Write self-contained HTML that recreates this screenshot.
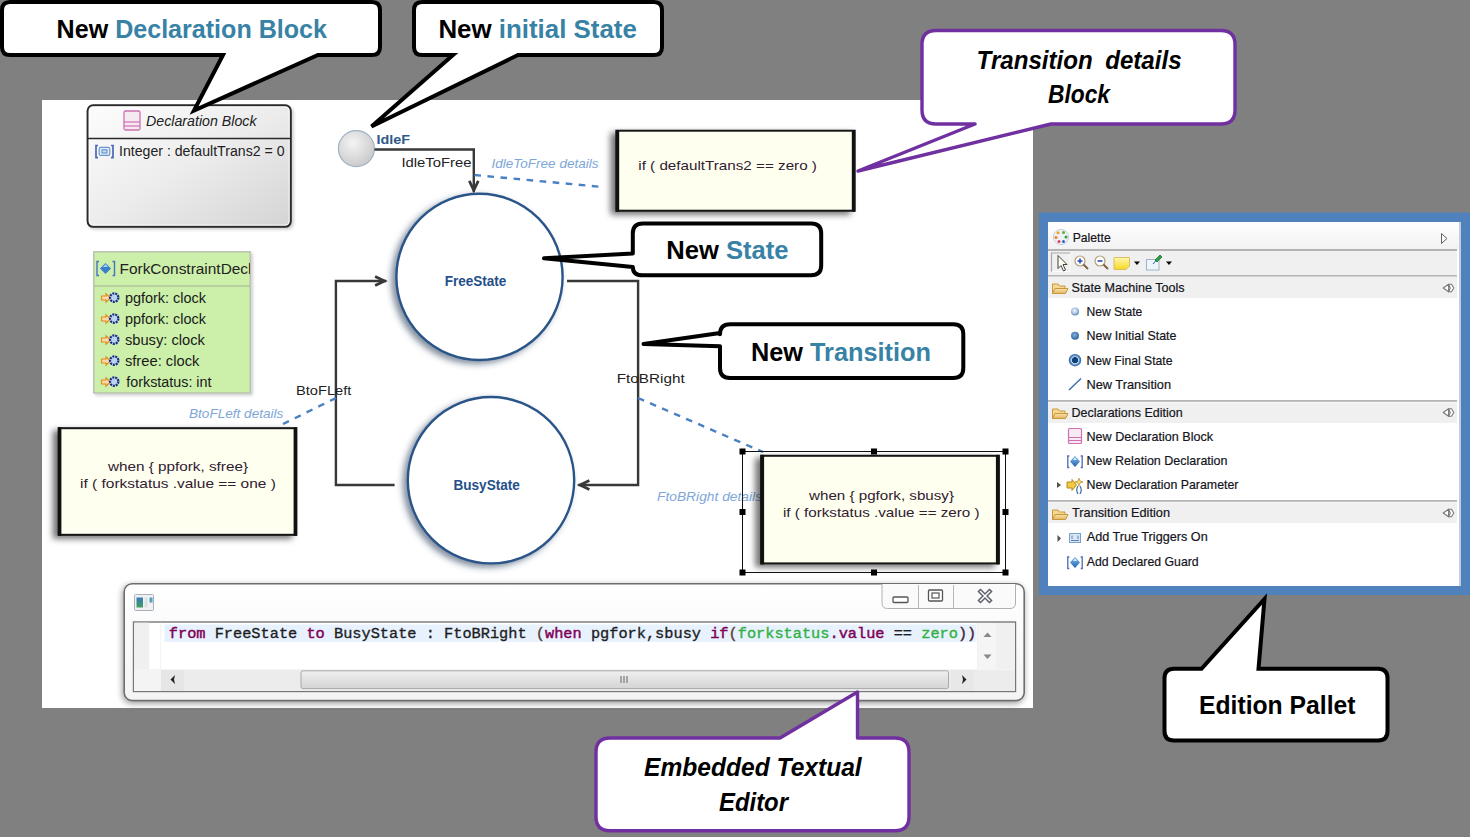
<!DOCTYPE html>
<html><head><meta charset="utf-8">
<style>
html,body{margin:0;padding:0;width:1470px;height:837px;overflow:hidden;background:#808080;}
svg{position:absolute;left:0;top:0;}
text{font-family:"Liberation Sans",sans-serif;}
.mono{font-family:"Liberation Mono",monospace;}
</style></head>
<body>
<svg width="1470" height="837" viewBox="0 0 1470 837">
<defs>
  <linearGradient id="declg" x1="0" y1="0" x2="1" y2="1">
    <stop offset="0" stop-color="#fdfdfd"/><stop offset="0.5" stop-color="#ececec"/><stop offset="1" stop-color="#d4d4d4"/>
  </linearGradient>
  <radialGradient id="idleg" cx="0.4" cy="0.35" r="0.7">
    <stop offset="0" stop-color="#f4f4f4"/><stop offset="1" stop-color="#c8c8c8"/>
  </radialGradient>
  <filter id="shadowL" x="-20%" y="-20%" width="140%" height="140%">
    <feGaussianBlur in="SourceAlpha" stdDeviation="3.2"/>
    <feOffset dx="-4" dy="3" result="b"/>
    <feFlood flood-color="#304560" flood-opacity="0.6"/>
    <feComposite in2="b" operator="in"/>
    <feMerge><feMergeNode/><feMergeNode in="SourceGraphic"/></feMerge>
  </filter>
  <filter id="shadowB" x="-20%" y="-20%" width="140%" height="140%">
    <feGaussianBlur in="SourceAlpha" stdDeviation="3.4"/>
    <feOffset dx="-5.5" dy="3" result="b"/>
    <feFlood flood-color="#000" flood-opacity="0.55"/>
    <feComposite in2="b" operator="in"/>
    <feMerge><feMergeNode/><feMergeNode in="SourceGraphic"/></feMerge>
  </filter>
  <marker id="arr" viewBox="-2 -2 16 14" refX="11.6" refY="5" markerWidth="16" markerHeight="14" markerUnits="userSpaceOnUse" orient="auto">
    <path d="M0.5,0.5 L10,5 L0.5,9.5" fill="none" stroke="#383838" stroke-width="2.7" stroke-linejoin="miter" stroke-miterlimit="3"/>
  </marker>
</defs>

<!-- canvas -->
<rect x="42" y="100" width="991" height="608" fill="#ffffff"/>

<!-- Declaration Block -->
<filter id="shadowS" x="-10%" y="-10%" width="120%" height="120%">
    <feGaussianBlur in="SourceAlpha" stdDeviation="1.5"/>
    <feOffset dx="1.5" dy="2" result="b"/>
    <feFlood flood-color="#000" flood-opacity="0.18"/>
    <feComposite in2="b" operator="in"/>
    <feMerge><feMergeNode/><feMergeNode in="SourceGraphic"/></feMerge>
  </filter>
<rect x="87.6" y="105.3" width="203.2" height="121.5" rx="5.5" fill="url(#declg)" stroke="#2a2a2a" stroke-width="2" filter="url(#shadowS)"/>
<rect x="89.3" y="107" width="199.8" height="118.1" rx="4" fill="none" stroke="#ffffff" stroke-opacity="0.8" stroke-width="1"/>
<line x1="88" y1="138.5" x2="290" y2="138.5" stroke="#2a2a2a" stroke-width="1.6"/>
<rect x="124" y="111" width="16" height="19" rx="1.5" fill="#f6eaf2" stroke="#d070b0" stroke-width="1.3"/>
<line x1="124" y1="122" x2="140" y2="122" stroke="#d070b0" stroke-width="1.2"/>
<line x1="124" y1="126" x2="140" y2="126" stroke="#d070b0" stroke-width="1.2"/>
<text x="146" y="126" font-size="14" font-style="italic" fill="#222" textLength="110.5" lengthAdjust="spacingAndGlyphs">Declaration Block</text>
<path d="M98,145.5 H96 V157.6 H98" fill="none" stroke="#4a68b8" stroke-width="1.7"/>
<path d="M111,145.5 H113 V157.6 H111" fill="none" stroke="#4a68b8" stroke-width="1.7"/>
<rect x="99.2" y="147.4" width="10.6" height="8" rx="1.5" fill="#e4eefa" stroke="#6a98cc" stroke-width="1.2"/>
<rect x="102" y="149.8" width="5" height="3.2" fill="#c8dcf2" stroke="#5a88c0" stroke-width="1"/>
<text x="119" y="156" font-size="14" fill="#222" textLength="165.5" lengthAdjust="spacingAndGlyphs">Integer : defaultTrans2 = 0</text>

<!-- IdleF -->
<circle cx="356.4" cy="148.6" r="18" fill="url(#idleg)" stroke="#9fb2c6" stroke-width="1.2"/>
<text x="376.5" y="144" font-size="13" font-weight="bold" fill="#2f5a8a" textLength="33.5" lengthAdjust="spacingAndGlyphs">IdleF</text>
<polyline points="374.5,149.5 473.8,149.5 473.8,192" fill="none" stroke="#383838" stroke-width="2.4" marker-end="url(#arr)"/>
<text x="401.4" y="166.6" font-size="13.5" fill="#222" textLength="70" lengthAdjust="spacingAndGlyphs">IdleToFree</text>
<text x="491.5" y="168" font-size="13.5" font-style="italic" fill="#7ea6d8" textLength="107" lengthAdjust="spacingAndGlyphs">IdleToFree details</text>
<line x1="474.4" y1="175" x2="599.5" y2="186.7" stroke="#4a80c4" stroke-width="2.4" stroke-dasharray="6.6,6.5"/>

<!-- FreeState -->
<circle cx="479.5" cy="276.9" r="83.1" fill="#fff" stroke="#2a5488" stroke-width="2.4" filter="url(#shadowL)"/>
<text x="444.7" y="286.2" font-size="14" font-weight="bold" fill="#24508a" textLength="61.7" lengthAdjust="spacingAndGlyphs">FreeState</text>

<!-- BusyState -->
<circle cx="491" cy="480.2" r="83.2" fill="#fff" stroke="#2a5488" stroke-width="2.4" filter="url(#shadowL)"/>
<text x="453.5" y="490" font-size="14" font-weight="bold" fill="#24508a" textLength="66.3" lengthAdjust="spacingAndGlyphs">BusyState</text>

<!-- transitions -->
<polyline points="567,281 638.1,281 638.1,485 578.3,485" fill="none" stroke="#383838" stroke-width="2.4" marker-end="url(#arr)"/>
<polyline points="394.6,485 335.9,485 335.9,281 386.2,281" fill="none" stroke="#383838" stroke-width="2.4" marker-end="url(#arr)"/>
<text x="296" y="395" font-size="13.5" fill="#222" textLength="55.4" lengthAdjust="spacingAndGlyphs">BtoFLeft</text>
<text x="616.7" y="383" font-size="13.5" fill="#222" textLength="68" lengthAdjust="spacingAndGlyphs">FtoBRight</text>
<line x1="336" y1="398" x2="283" y2="424" stroke="#4a80c4" stroke-width="2.4" stroke-dasharray="6.6,6.5"/>
<line x1="638" y1="398" x2="763" y2="452" stroke="#4a80c4" stroke-width="2.4" stroke-dasharray="6.6,6.5"/>
<text x="189" y="417.7" font-size="13.5" font-style="italic" fill="#7ea6d8" textLength="94.4" lengthAdjust="spacingAndGlyphs">BtoFLeft details</text>
<text x="657" y="501" font-size="13.5" font-style="italic" fill="#7ea6d8" textLength="105" lengthAdjust="spacingAndGlyphs">FtoBRight details</text>

<!-- top right details block -->
<rect x="616.5" y="130.7" width="238" height="80" fill="#fffff0" stroke="#151515" stroke-width="2" filter="url(#shadowB)"/>
<line x1="617.4" y1="130" x2="617.4" y2="211.7" stroke="#111" stroke-width="3.6"/>
<line x1="853.6" y1="130" x2="853.6" y2="211.7" stroke="#111" stroke-width="3.6"/>
<text x="638.3" y="170.2" font-size="13" fill="#302030" textLength="178.6" lengthAdjust="spacingAndGlyphs">if ( defaultTrans2 == zero )</text>

<!-- ForkConstraintDecl -->
<rect x="93.8" y="251.8" width="156.4" height="141.2" fill="#ccf0aa" stroke="#b4bcac" stroke-width="1.3" filter="url(#shadowS)"/>
<line x1="94" y1="286" x2="250" y2="286" stroke="#a0b098" stroke-width="1.2"/>
<svg x="93" y="252" width="157" height="34" overflow="hidden"><text x="26.5" y="21.6" font-size="14" fill="#222" textLength="132" lengthAdjust="spacingAndGlyphs">ForkConstraintDecl</text></svg>

<!-- BtoFLeft details block -->
<rect x="58.8" y="428.2" width="237.4" height="106.6" fill="#fffff0" stroke="#151515" stroke-width="2" filter="url(#shadowB)"/>
<line x1="59.6" y1="427.2" x2="59.6" y2="535.8" stroke="#111" stroke-width="3.6"/>
<line x1="295.4" y1="427.2" x2="295.4" y2="535.8" stroke="#111" stroke-width="3.6"/>
<text x="108" y="471.2" font-size="13" fill="#302030" textLength="140" lengthAdjust="spacingAndGlyphs">when { ppfork, sfree}</text>
<text x="80.1" y="487.6" font-size="13" fill="#302030" textLength="195.7" lengthAdjust="spacingAndGlyphs">if ( forkstatus .value == one )</text>

<!-- FtoBRight details block -->
<rect x="761.2" y="455.8" width="237.6" height="107.6" fill="#fffff0" stroke="#151515" stroke-width="2" filter="url(#shadowB)"/>
<line x1="762.3" y1="454.8" x2="762.3" y2="564.4" stroke="#111" stroke-width="3.6"/>
<line x1="997.7" y1="454.8" x2="997.7" y2="564.4" stroke="#111" stroke-width="3.6"/>
<text x="809" y="500.2" font-size="13" fill="#302030" textLength="145" lengthAdjust="spacingAndGlyphs">when { pgfork, sbusy}</text>
<text x="782.9" y="517" font-size="13" fill="#302030" textLength="196.7" lengthAdjust="spacingAndGlyphs">if ( forkstatus .value == zero )</text>
<rect x="742.5" y="451.5" width="263" height="121" fill="none" stroke="#111" stroke-width="1"/>

<!-- callouts -->
<path d="M10,2 H372 Q380,2 380,10 V47 Q380,55 372,55 H318 L194,110.5 L223,55 H10 Q2,55 2,47 V10 Q2,2 10,2 Z" fill="#fff" stroke="#000" stroke-width="4" stroke-linejoin="miter"/>
<text x="56.6" y="38" font-size="25" font-weight="bold" textLength="270.4" lengthAdjust="spacingAndGlyphs"><tspan fill="#000">New </tspan><tspan fill="#3782a5">Declaration Block</tspan></text>

<path d="M422,2 H654 Q662,2 662,10 V47 Q662,55 654,55 H518 L371.5,126.5 L453,55 H422 Q414,55 414,47 V10 Q414,2 422,2 Z" fill="#fff" stroke="#000" stroke-width="4"/>
<text x="438.4" y="38.1" font-size="25" font-weight="bold" textLength="198.5" lengthAdjust="spacingAndGlyphs"><tspan fill="#000">New </tspan><tspan fill="#3782a5">initial State</tspan></text>



<!-- ===== EDITOR ===== -->
<defs>
  <linearGradient id="edfr" x1="0" y1="0" x2="0" y2="1">
    <stop offset="0" stop-color="#ffffff"/><stop offset="1" stop-color="#f4f4f4"/>
  </linearGradient>
  <linearGradient id="thumb" x1="0" y1="0" x2="0" y2="1">
    <stop offset="0" stop-color="#f0f0f0"/><stop offset="1" stop-color="#d4d4d4"/>
  </linearGradient>
  <filter id="edsh" x="-5%" y="-20%" width="110%" height="140%">
    <feGaussianBlur in="SourceAlpha" stdDeviation="3"/>
    <feOffset dx="-1" dy="2" result="b"/>
    <feFlood flood-color="#000" flood-opacity="0.4"/>
    <feComposite in2="b" operator="in"/>
    <feMerge><feMergeNode/><feMergeNode in="SourceGraphic"/></feMerge>
  </filter>
</defs>
<rect x="124.2" y="583.7" width="900" height="116.9" rx="8" fill="url(#edfr)" stroke="#6e6e6e" stroke-width="1.6" filter="url(#edsh)"/>
<rect x="134.5" y="594.5" width="19" height="16" rx="1" fill="#eef0f2" stroke="#a8b0b8" stroke-width="1"/>
<defs><linearGradient id="icg" x1="0" y1="0" x2="0" y2="1"><stop offset="0" stop-color="#3a78b8"/><stop offset="1" stop-color="#40a060"/></linearGradient></defs>
<rect x="136.5" y="597.5" width="6.5" height="10" fill="url(#icg)"/>
<rect x="144.5" y="597.5" width="3" height="10" fill="#e0e0e0"/>
<rect x="149.5" y="597.5" width="3" height="5" fill="#50a0c0"/>
<path d="M882,584 V603 Q882,608.5 887.5,608.5 H1010 Q1015.5,608.5 1015.5,603 V584" fill="#fafafa" stroke="#b0b0b0" stroke-width="1"/>
<line x1="918.5" y1="585" x2="918.5" y2="608" stroke="#b8b8b8" stroke-width="1"/>
<line x1="953.5" y1="585" x2="953.5" y2="608" stroke="#b8b8b8" stroke-width="1"/>
<rect x="893" y="597" width="15" height="5.5" rx="1" fill="#fff" stroke="#555" stroke-width="1.3"/>
<rect x="928.5" y="590" width="14" height="11" rx="1" fill="#fff" stroke="#555" stroke-width="1.3"/>
<rect x="932" y="593" width="7" height="5" fill="none" stroke="#555" stroke-width="1.2"/>
<path d="M980.5,591.5 L989.5,600.5 M989.5,591.5 L980.5,600.5" stroke="#5a5f6a" stroke-width="4.4" stroke-linecap="square"/>
<path d="M980.5,591.5 L989.5,600.5 M989.5,591.5 L980.5,600.5" stroke="#fff" stroke-width="1.5" stroke-linecap="square"/>

<rect x="133.5" y="622" width="882" height="69.5" fill="#ffffff" stroke="#777" stroke-width="1.4"/>
<rect x="134.2" y="622.7" width="15" height="46.5" fill="#f0f0f0"/>
<rect x="160" y="622.7" width="1" height="46.5" fill="#f4f4f4"/>
<rect x="164.5" y="624.5" width="812" height="17.5" fill="#e8f2fe"/>
<text class="mono" x="168.8" y="638" font-size="15.27" fill="#1e1e1e" stroke="#1e1e1e" stroke-width="0.35" textLength="807.5" lengthAdjust="spacingAndGlyphs" xml:space="preserve"><tspan fill="#7f0055" stroke="#7f0055" stroke-width="0.45">from</tspan> FreeState <tspan fill="#7f0055" stroke="#7f0055" stroke-width="0.45">to</tspan> BusyState : FtoBRight <tspan fill="#5a3a2a" stroke="#5a3a2a">(</tspan><tspan fill="#7f0055" stroke="#7f0055" stroke-width="0.45">when</tspan> pgfork,sbusy <tspan fill="#7f0055" stroke="#7f0055" stroke-width="0.45">if</tspan><tspan fill="#5a3a2a" stroke="#5a3a2a">(</tspan><tspan fill="#30b040" stroke="#30b040">forkstatus</tspan><tspan fill="#7f0055" stroke="#7f0055" stroke-width="0.45">.value</tspan> == <tspan fill="#30b040" stroke="#30b040">zero</tspan><tspan fill="#4a1a3a" stroke="#4a1a3a">))</tspan></text>
<rect x="977" y="623" width="38" height="46" fill="#f0f0f0"/>
<rect x="978" y="623" width="18" height="46" fill="#f5f5f5"/>
<path d="M983.5,637 L987.5,632.5 L991.5,637 Z" fill="#888"/>
<path d="M983.5,654.5 L987.5,659 L991.5,654.5 Z" fill="#888"/>
<rect x="134" y="669.5" width="881" height="21.5" fill="#ececec"/>
<rect x="134" y="669.5" width="27" height="21.5" fill="#f4f4f4"/>
<rect x="161" y="670" width="23" height="21" fill="#e6e6e6"/>
<path d="M175,675 L170.5,679.5 L175,684 L174,679.5 Z" fill="#222"/>
<rect x="301" y="670.8" width="647.5" height="17.8" rx="2" fill="url(#thumb)" stroke="#a8a8a8" stroke-width="1"/>
<path d="M621,676 V683 M624,676 V683 M627,676 V683" stroke="#666" stroke-width="1"/>
<rect x="951" y="670" width="23" height="21" fill="#e8e8e8"/>
<path d="M962,675 L966.5,679.5 L962,684 L963,679.5 Z" fill="#222"/>

<!-- ForkConstraintDecl icon and items -->
<g id="fkicon">
<path d="M99,261.5 H97 V275.5 H99" fill="none" stroke="#4a70c0" stroke-width="1.4"/>
<path d="M112.5,261.5 H114.5 V275.5 H112.5" fill="none" stroke="#4a70c0" stroke-width="1.4"/>
<path d="M105.5,263 L111,268.5 L105.5,274 L100,268.5 Z" fill="#3a80c8"/>
<path d="M105.5,264 L108,267 H103 Z" fill="#a8d0f0"/>
</g>
<g id="parm">
<path d="M101.5,296 H106 V293.8 L110.5,298 L106,302.2 V300 H101.5 Z" fill="#fbd9a0" stroke="#e08a20" stroke-width="1.1"/>
<circle cx="114.2" cy="297.6" r="4.2" fill="#b8d4f0" stroke="#1a2a8a" stroke-width="2.2" stroke-dasharray="2,0.9"/>
</g>
<use href="#parm" y="21"/>
<use href="#parm" y="42"/>
<use href="#parm" y="63"/>
<use href="#parm" y="84"/>
<text x="124.9" y="302.9" font-size="14" fill="#1a1a1a" textLength="81.1" lengthAdjust="spacingAndGlyphs">pgfork: clock</text>
<text x="124.9" y="324" font-size="14" fill="#1a1a1a" textLength="81.1" lengthAdjust="spacingAndGlyphs">ppfork: clock</text>
<text x="124.9" y="344.8" font-size="14" fill="#1a1a1a" textLength="80" lengthAdjust="spacingAndGlyphs">sbusy: clock</text>
<text x="124.9" y="365.9" font-size="14" fill="#1a1a1a" textLength="74.5" lengthAdjust="spacingAndGlyphs">sfree: clock</text>
<text x="126.3" y="386.7" font-size="14" fill="#1a1a1a" textLength="85.2" lengthAdjust="spacingAndGlyphs">forkstatus: int</text>

<!-- selection handles -->
<g fill="#000">
<rect x="739.5" y="448.5" width="6" height="6"/><rect x="871" y="448.5" width="6" height="6"/><rect x="1002.5" y="448.5" width="6" height="6"/>
<rect x="739.5" y="509" width="6" height="6"/><rect x="1002.5" y="509" width="6" height="6"/>
<rect x="739.5" y="569.5" width="6" height="6"/><rect x="871" y="569.5" width="6" height="6"/><rect x="1002.5" y="569.5" width="6" height="6"/>
</g>

<!-- purple callouts -->
<path d="M936,30.5 H1221 Q1235,30.5 1235,44.5 V110 Q1235,124 1221,124 H1051 L858,171 L975,124 H936 Q922,124 922,110 V44.5 Q922,30.5 936,30.5 Z" fill="#fff" stroke="#7030a0" stroke-width="3.4" stroke-linejoin="round"/>
<text x="976.6" y="68.6" font-size="25" font-weight="bold" font-style="italic" fill="#000" textLength="205" lengthAdjust="spacingAndGlyphs" word-spacing="6">Transition details</text>
<text x="1048" y="103.4" font-size="25" font-weight="bold" font-style="italic" fill="#000" textLength="62" lengthAdjust="spacingAndGlyphs">Block</text>

<path d="M610,738 H780 L857.5,692 V738 H895 Q909,738 909,752 V816.8 Q909,830.8 895,830.8 H610 Q596,830.8 596,816.8 V752 Q596,738 610,738 Z" fill="#fff" stroke="#7030a0" stroke-width="3.4" stroke-linejoin="round"/>
<text x="644" y="775.5" font-size="25" font-weight="bold" font-style="italic" fill="#000" textLength="217.7" lengthAdjust="spacingAndGlyphs">Embedded Textual</text>
<text x="719" y="810.5" font-size="25" font-weight="bold" font-style="italic" fill="#000" textLength="69" lengthAdjust="spacingAndGlyphs">Editor</text>

<!-- New State callout -->
<path d="M642.8,223.5 H811.2 Q821.2,223.5 821.2,233.5 V265.3 Q821.2,275.3 811.2,275.3 H642.8 Q632.8,275.3 632.8,266.9 L544,258.3 L632.8,253.5 V233.5 Q632.8,223.5 642.8,223.5 Z" fill="#fff" stroke="#000" stroke-width="4" stroke-linejoin="round"/>
<text x="666.2" y="259" font-size="25" font-weight="bold" textLength="122.4" lengthAdjust="spacingAndGlyphs"><tspan fill="#000">New </tspan><tspan fill="#3782a5">State</tspan></text>

<!-- New Transition callout -->
<path d="M730,324.3 H953.3 Q963.3,324.3 963.3,334.3 V367.9 Q963.3,377.9 953.3,377.9 H730 Q720,377.9 720,367.9 V346.3 L643.5,344 L720,333 V334.3 Q720,324.3 730,324.3 Z" fill="#fff" stroke="#000" stroke-width="4" stroke-linejoin="round"/>
<text x="751" y="360.6" font-size="25" font-weight="bold" textLength="180" lengthAdjust="spacingAndGlyphs"><tspan fill="#000">New </tspan><tspan fill="#3782a5">Transition</tspan></text>

<!-- ===== PALETTE ===== -->
<defs>
  <linearGradient id="palhdr" x1="0" y1="0" x2="0" y2="1">
    <stop offset="0" stop-color="#ffffff"/><stop offset="1" stop-color="#f2f2f2"/>
  </linearGradient>
  <linearGradient id="folder" x1="0" y1="0" x2="0" y2="1">
    <stop offset="0" stop-color="#fbe3a8"/><stop offset="1" stop-color="#e2b460"/>
  </linearGradient>
</defs>
<rect x="1039" y="212.5" width="431" height="382.5" fill="#4f81bd"/>
<rect x="1048" y="222" width="413" height="364" fill="#ffffff"/>
<rect x="1459" y="222" width="2" height="364" fill="#c4ccdc"/>
<rect x="1048" y="222" width="411" height="27" fill="url(#palhdr)"/>
<rect x="1048" y="249" width="409" height="2" fill="#b4b4b4"/>
<rect x="1048" y="251" width="409" height="24" fill="#f0f0f0"/>
<rect x="1048" y="275" width="409" height="1.6" fill="#b4b4b4"/>
<rect x="1048" y="277" width="409" height="21" fill="#f0f0f0"/>
<rect x="1048" y="400" width="409" height="1.8" fill="#b4b4b4"/>
<rect x="1048" y="402.5" width="409" height="20.5" fill="#f0f0f0"/>
<rect x="1048" y="500" width="409" height="1.8" fill="#b4b4b4"/>
<rect x="1048" y="502.5" width="409" height="20.5" fill="#f0f0f0"/>

<!-- palette icon -->
<circle cx="1061" cy="237" r="7.6" fill="#eef2f6" stroke="#c8d0dc" stroke-width="1"/>
<circle cx="1058" cy="232.8" r="1.5" fill="#f0a020"/>
<circle cx="1063.5" cy="232.5" r="1.5" fill="#60b030"/>
<circle cx="1056" cy="237.5" r="1.5" fill="#f08020"/>
<circle cx="1066" cy="237" r="1.5" fill="#30a030"/>
<circle cx="1059" cy="241.5" r="1.5" fill="#e04060"/>
<circle cx="1063.5" cy="241.5" r="1.5" fill="#3060d0"/>
<text x="1072.7" y="242.2" font-size="12.9" fill="#141420" stroke="#141420" stroke-width="0.2" textLength="38" lengthAdjust="spacingAndGlyphs">Palette</text>
<path d="M1441.5,233.5 L1447,238.5 L1441.5,243.5 Z" fill="none" stroke="#606060" stroke-width="1"/>

<!-- toolbar -->
<path d="M1051.5,271.5 V253 H1070" fill="none" stroke="#a8a8a8" stroke-width="1.2"/><path d="M1052.5,271.5 H1070 V254" fill="none" stroke="#fafafa" stroke-width="1"/>
<path d="M1058,255.5 L1058,268.5 L1061,265.5 L1063.5,271 L1065.5,270 L1063,264.5 L1067,264.5 Z" fill="#fffff0" stroke="#404040" stroke-width="1"/>
<circle cx="1080" cy="261" r="5" fill="#fff" stroke="#b0a078" stroke-width="1.2"/>
<line x1="1083.5" y1="264.5" x2="1088" y2="269" stroke="#806040" stroke-width="2"/>
<path d="M1077.5,261 H1082.5 M1080,258.5 V263.5" stroke="#2040c0" stroke-width="1.5"/>
<circle cx="1100" cy="261" r="5" fill="#fff" stroke="#b0a078" stroke-width="1.2"/>
<line x1="1103.5" y1="264.5" x2="1108" y2="269" stroke="#806040" stroke-width="2"/>
<path d="M1097.5,261 H1102.5" stroke="#2040c0" stroke-width="1.5"/>
<defs><linearGradient id="note" x1="0" y1="0" x2="0" y2="1"><stop offset="0" stop-color="#fff8b0"/><stop offset="1" stop-color="#f4d820"/></linearGradient></defs><path d="M1114,257.5 H1129.5 V266 L1126,269.5 H1114 Z" fill="url(#note)" stroke="#d8c060" stroke-width="1"/>
<path d="M1134,261.5 H1140 L1137,265 Z" fill="#000"/>
<rect x="1146.5" y="259.5" width="12.5" height="10.5" fill="#eef6fc" stroke="#a0b4cc" stroke-width="1"/>
<path d="M1153,264 L1156,260.5" stroke="#3060a0" stroke-width="1"/>
<path d="M1155,260 L1160,255 L1162,257 L1157,262 Z" fill="#30a040" stroke="#207030" stroke-width="0.8"/>
<path d="M1166,261.5 H1172 L1169,265 Z" fill="#000"/>

<!-- section headers -->
<g id="fold1">
<path d="M1052.5,284 H1058 L1059.5,286 H1065 V293.5 H1052.5 Z" fill="#f6d890" stroke="#c89840" stroke-width="1"/>
<path d="M1052.5,293.5 L1055,288.5 H1068 L1065.5,293.5 Z" fill="url(#folder)" stroke="#c89840" stroke-width="1"/>
</g>
<use href="#fold1" y="125"/>
<use href="#fold1" y="226"/>
<text x="1071.6" y="291.6" font-size="12.9" fill="#141420" stroke="#141420" stroke-width="0.2" textLength="113" lengthAdjust="spacingAndGlyphs">State Machine Tools</text>
<text x="1071.6" y="416.5" font-size="12.9" fill="#141420" stroke="#141420" stroke-width="0.2" textLength="111" lengthAdjust="spacingAndGlyphs">Declarations Edition</text>
<text x="1072" y="517" font-size="12.9" fill="#141420" stroke="#141420" stroke-width="0.2" textLength="98" lengthAdjust="spacingAndGlyphs">Transition Edition</text>
<g id="coll1" fill="#fff" stroke="#787878" stroke-width="1.1" stroke-linejoin="round">
<path d="M1448.6,284.2 L1443.2,288 L1448.6,291.8 Z"/><path d="M1448.6,284.2 H1451.5 L1453.8,288 L1451.5,291.8 H1448.6 L1450.3,288 Z"/>
</g>
<use href="#coll1" y="124.5"/>
<use href="#coll1" y="225"/>

<!-- items -->
<defs>
<radialGradient id="st1" cx="0.45" cy="0.4" r="0.6"><stop offset="0" stop-color="#f4f8fc"/><stop offset="0.6" stop-color="#a8c4e0"/><stop offset="1" stop-color="#5a88bc"/></radialGradient>
<radialGradient id="st2" cx="0.45" cy="0.4" r="0.6"><stop offset="0" stop-color="#8ab0d8"/><stop offset="1" stop-color="#2a62a0"/></radialGradient>
<radialGradient id="st3" cx="0.5" cy="0.5" r="0.5"><stop offset="0.45" stop-color="#10407a"/><stop offset="0.55" stop-color="#c8dcf0"/><stop offset="0.75" stop-color="#6090c8"/><stop offset="1" stop-color="#2a62a0"/></radialGradient>
</defs>
<circle cx="1075" cy="311.5" r="4" fill="url(#st1)"/>
<circle cx="1075" cy="335.8" r="4" fill="url(#st2)"/>
<circle cx="1075" cy="360.2" r="6.2" fill="url(#st3)"/>
<line x1="1069" y1="390" x2="1081" y2="378.5" stroke="#3c6fa8" stroke-width="1.5"/>
<text x="1086.5" y="316.1" font-size="12.9" fill="#141420" stroke="#141420" stroke-width="0.2" textLength="55.8" lengthAdjust="spacingAndGlyphs">New State</text>
<text x="1086.5" y="340.4" font-size="12.9" fill="#141420" stroke="#141420" stroke-width="0.2" textLength="90" lengthAdjust="spacingAndGlyphs">New Initial State</text>
<text x="1086.5" y="364.7" font-size="12.9" fill="#141420" stroke="#141420" stroke-width="0.2" textLength="86" lengthAdjust="spacingAndGlyphs">New Final State</text>
<text x="1086.5" y="388.9" font-size="12.9" fill="#141420" stroke="#141420" stroke-width="0.2" textLength="84.5" lengthAdjust="spacingAndGlyphs">New Transition</text>

<rect x="1068.5" y="428.5" width="13" height="15" rx="1" fill="#f6eaf2" stroke="#d070b0" stroke-width="1.2"/>
<line x1="1068.5" y1="437.5" x2="1081.5" y2="437.5" stroke="#d070b0" stroke-width="1"/>
<line x1="1068.5" y1="440.5" x2="1081.5" y2="440.5" stroke="#d070b0" stroke-width="1"/>
<text x="1086.5" y="440.6" font-size="12.9" fill="#141420" stroke="#141420" stroke-width="0.2" textLength="126.5" lengthAdjust="spacingAndGlyphs">New Declaration Block</text>

<g id="reldecl">
<path d="M1069.3,456 H1067.8 V467.5 H1069.3" fill="none" stroke="#4a68b8" stroke-width="1.3"/>
<path d="M1080.7,456 H1082.2 V467.5 H1080.7" fill="none" stroke="#4a68b8" stroke-width="1.3"/>
<defs><linearGradient id="dia" x1="0" y1="0" x2="0" y2="1"><stop offset="0" stop-color="#8ec0ec"/><stop offset="1" stop-color="#1e62b0"/></linearGradient></defs>
<path d="M1075,455.8 L1080,461.5 L1075,467 L1070,461.5 Z" fill="url(#dia)"/>
<path d="M1075,457.5 L1076.8,460 H1073.2 Z" fill="#ffffff" opacity="0.85"/>
</g>
<text x="1086.5" y="465.1" font-size="12.9" fill="#141420" stroke="#141420" stroke-width="0.2" textLength="141" lengthAdjust="spacingAndGlyphs">New Relation Declaration</text>

<path d="M1057,482 L1061,485 L1057,488 Z" fill="#505050"/>
<path d="M1067,482 H1072 V479.5 L1076.5,485 L1072,490.5 V488 H1067 Z" fill="#f4c840" stroke="#b88a20" stroke-width="1"/>
<path d="M1078,486 Q1075.5,490 1078,494 M1080,486 Q1082.5,490 1080,494" fill="none" stroke="#3a6aa8" stroke-width="1.2"/>
<path d="M1079,478 L1080,481 L1083,482 L1080,483 L1079,486 L1078,483 L1075,482 L1078,481 Z" fill="#f8e070" stroke="#b89030" stroke-width="0.7"/>
<text x="1086.5" y="489.4" font-size="12.9" fill="#141420" stroke="#141420" stroke-width="0.2" textLength="152" lengthAdjust="spacingAndGlyphs">New Declaration Parameter</text>

<path d="M1057.5,535 L1061,538.5 L1057.5,542 Z" fill="#505050"/>
<rect x="1069.5" y="533.5" width="11" height="9" fill="#d8e6f6" stroke="#7aa0cc" stroke-width="1"/>
<path d="M1072,535.5 V539 M1078,535.5 V539 M1071,540.5 H1079" stroke="#5a80b0" stroke-width="1"/>
<text x="1086.7" y="541.2" font-size="12.9" fill="#141420" stroke="#141420" stroke-width="0.2" textLength="121" lengthAdjust="spacingAndGlyphs">Add True Triggers On</text>
<use href="#reldecl" y="101"/>
<text x="1086.7" y="565.5" font-size="12.9" fill="#141420" stroke="#141420" stroke-width="0.2" textLength="112" lengthAdjust="spacingAndGlyphs">Add Declared Guard</text>

<!-- Edition Pallet callout -->
<path d="M1174,668.8 H1201.5 L1264.5,599 L1258.5,668.8 H1378 Q1387.5,668.8 1387.5,678.3 V731 Q1387.5,740.5 1378,740.5 H1174 Q1164.5,740.5 1164.5,731 V678.3 Q1164.5,668.8 1174,668.8 Z" fill="#fff" stroke="#000" stroke-width="4"/>
<text x="1199" y="713.5" font-size="25" font-weight="bold" fill="#000" textLength="156.5" lengthAdjust="spacingAndGlyphs">Edition Pallet</text>

</svg>
</body></html>
